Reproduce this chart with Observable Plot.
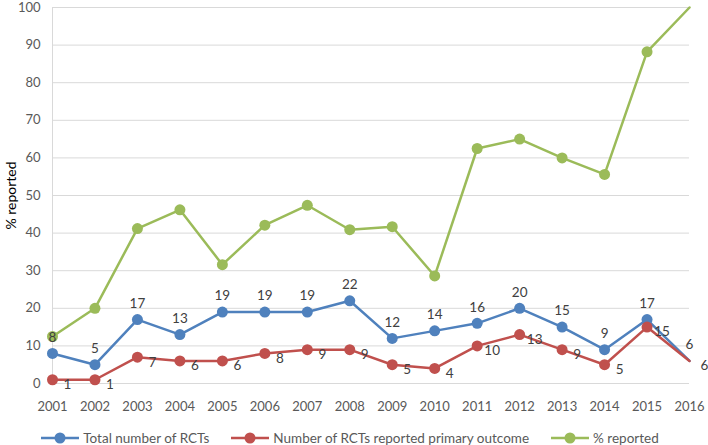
<!DOCTYPE html>
<html>
<head>
<meta charset="utf-8">
<script src="https://cdn.jsdelivr.net/npm/d3@7"></script>
<script src="https://cdn.jsdelivr.net/npm/@observablehq/plot@0.6"></script>
<style>
  body { margin: 0; background: #fff; font-family: Lato, "Open Sans", sans-serif; }
  #legend { display: flex; justify-content: center; font-size: 13.5px; color: #595959; height: 20px; align-items: center; margin-top: 8px; padding-left: 14px; }
  .item { display: flex; align-items: center; margin-right: 22px; }
  .item svg { margin-right: 4px; }
</style>
</head>
<body>
<div id="chart"></div>
<div id="legend"></div>
<script>
const years = [2001,2002,2003,2004,2005,2006,2007,2008,2009,2010,2011,2012,2013,2014,2015,2016];
const totalRCTs = [8,5,17,13,19,19,19,22,12,14,16,20,15,9,17,6];
const reportedRCTs = [1,1,7,6,6,8,9,9,5,4,10,13,9,5,15,6];
const pctReported = [12.5,20,41.2,46.2,31.6,42.1,47.4,40.9,41.7,28.6,62.5,65,60,55.6,88.2,100];
const seriesNames = ["Total number of RCTs", "Number of RCTs reported primary outcome", "% reported"];
const colors = ["#4F81BD", "#C0504D", "#9BBB59"];

const rows = [];
years.forEach((y, i) => {
  rows.push({year: y, value: totalRCTs[i], s: seriesNames[0]});
  rows.push({year: y, value: reportedRCTs[i], s: seriesNames[1]});
  rows.push({year: y, value: pctReported[i], s: seriesNames[2]});
});
const color = {domain: seriesNames, range: colors};
const dotRows = rows.filter(d => d.year < 2016);

const plot = Plot.plot({
  width: 708,
  height: 420,
  marginLeft: 52,
  marginRight: 19,
  marginTop: 7,
  marginBottom: 37,
  style: {fontFamily: "Lato, 'Open Sans', sans-serif", fontSize: "13px", color: "#595959"},
  x: {domain: [2001, 2016]},
  y: {domain: [0, 100]},
  color,
  marks: [
    Plot.gridY(d3.range(10, 101, 10), {stroke: "#d9d9d9", strokeOpacity: 1, strokeWidth: 1}),
    Plot.ruleY([0], {stroke: "#d9d9d9"}),
    Plot.ruleX([2001], {stroke: "#d9d9d9"}),
    Plot.axisX({ticks: years, tickFormat: d => String(d), tickSize: 0, tickPadding: 18, label: null, fontSize: 13, fill: "#595959"}),
    Plot.axisY({ticks: d3.range(0, 101, 10), tickSize: 0, tickPadding: 12, label: "% reported", labelAnchor: "center", labelArrow: "none", labelOffset: 46, fontSize: 13, fill: "#595959"}),
    Plot.line(rows, {x: "year", y: "value", z: "s", stroke: d => d.s, strokeWidth: 2.5}),
    Plot.dot(dotRows, {x: "year", y: "value", fill: d => d.s, r: 5.5}),
    Plot.text(years.map((y, i) => ({year: y, value: totalRCTs[i]})), {x: "year", y: "value", text: d => String(d.value), dy: -16, fill: "#404040", fontSize: 13.5}),
    Plot.text(years.map((y, i) => ({year: y, value: reportedRCTs[i]})), {x: "year", y: "value", text: d => String(d.value), dx: 15, dy: 5, fill: "#404040", fontSize: 13.5})
  ]
});
document.getElementById("chart").appendChild(plot);
d3.select(plot).selectAll("g[aria-label='y-axis label'] text").attr("fill", "#000").style("font-size", "14px");

const legend = document.getElementById("legend");
seriesNames.forEach((n, i) => {
  const item = document.createElement("div");
  item.className = "item";
  item.innerHTML = `<svg width="38" height="12"><line x1="0" y1="6" x2="38" y2="6" stroke="${colors[i]}" stroke-width="2.5"/><circle cx="19" cy="6" r="5.5" fill="${colors[i]}"/></svg><span>${n}</span>`;
  legend.appendChild(item);
});
</script>
</body>
</html>
